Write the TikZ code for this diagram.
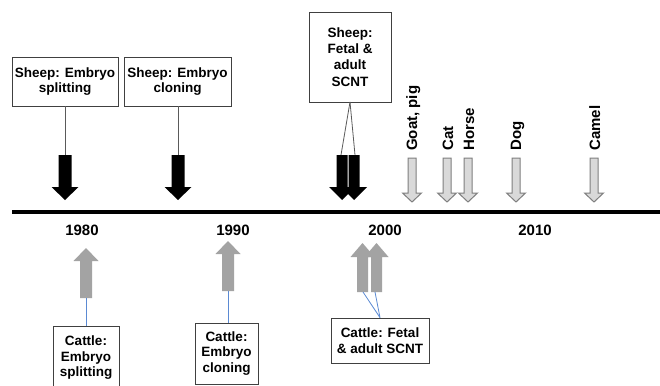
\documentclass[tikz,border=0pt]{standalone}
\usepackage{fontspec}
\setmainfont{Liberation Sans}
\definecolor{boxgray}{HTML}{404040}
\definecolor{linegray}{HTML}{5A5A5A}
\definecolor{upgray}{HTML}{A3A3A3}
\definecolor{lightfill}{HTML}{D9D9D9}
\definecolor{outgray}{HTML}{7F7F7F}
\definecolor{blueline}{HTML}{5B8AD3}
\tikzset{
  box/.style={draw=boxgray, line width=0.8pt, fill=white, align=center, inner sep=1pt,
    font=\bfseries\fontsize{13.5}{15.5}\selectfont},
  year/.style={font=\bfseries\fontsize{15}{17}\selectfont, inner sep=0pt},
  species/.style={rotate=90, anchor=base west, inner sep=0pt, font=\bfseries\fontsize{15}{17}\selectfont},
  blackline/.style={draw=linegray, line width=0.8pt},
  blueconn/.style={draw=blueline, line width=0.8pt},
  blackdown/.pic={\fill[black] (-6.5,0) -- (6.5,0) -- (6.5,32) -- (13.5,32) -- (0,45) -- (-13.5,32) -- (-6.5,32) -- cycle;},
  blackdownthin/.pic={\fill[black] (-5.5,0) -- (5.5,0) -- (5.5,32) -- (13,32) -- (0,45) -- (-13,32) -- (-5.5,32) -- cycle;},
  graydown/.pic={\filldraw[fill=lightfill, draw=outgray, line width=1pt] (-4,0) -- (4,0) -- (4,35) -- (9.5,35) -- (0,44) -- (-9.5,35) -- (-4,35) -- cycle;},
  grayup/.pic={\fill[upgray] (0,0) -- (12.5,13) -- (6,13) -- (6,50) -- (-6,50) -- (-6,13) -- (-12.5,13) -- cycle;},
  grayupthin/.pic={\fill[upgray] (0,0) -- (12,14) -- (5.5,14) -- (5.5,49) -- (-5.5,49) -- (-5.5,14) -- (-12,14) -- cycle;}
}
\begin{document}
\begin{tikzpicture}[x=1pt,y=-1pt]
\useasboundingbox (0,0) rectangle (660,385);
\clip (0,0) rectangle (660,385);
\fill[white] (0,0) rectangle (660,385);

% timeline
\coordinate (tl0) at (12,212);
\coordinate (tl1) at (660,212);
\draw[line width=4pt] (tl0) -- (tl1);

% years
\node[year] (y1980) at (82,230) {1980};
\node[year] (y1990) at (233,230) {1990};
\node[year] (y2000) at (385,230) {2000};
\node[year] (y2010) at (535,230) {2010};

% top boxes
\node[box, minimum width=106pt, minimum height=49pt] (s1) at (65,81.5) {Sheep: Embryo\\splitting};
\node[box, minimum width=107pt, minimum height=49pt] (s2) at (177.5,81.5) {Sheep: Embryo\\cloning};
\node[box, minimum width=82pt, minimum height=90pt, font=\bfseries\fontsize{13.5}{16.3}\selectfont] (s3) at (350,57) {Sheep:\\Fetal \&\\adult\\SCNT};

% black arrows
\pic at (65,155) {blackdown};
\pic at (178,155) {blackdown};
\pic at (342,155) {blackdownthin};
\pic at (354,155) {blackdownthin};
\coordinate (a1) at (65,155);
\coordinate (a2) at (178,155);
\coordinate (a3) at (341,155);
\coordinate (a4) at (355,155);
\coordinate (s3b) at (350,102);
\draw[blackline] (s1.south) -- (a1);
\draw[blackline] (s2.south -| a2) -- (a2);
\draw[blackline] (s3b) -- (a3);
\draw[blackline] (s3b) -- (a4);

% gray down arrows and species labels
\pic at (412,158) {graydown};
\pic at (447,158) {graydown};
\pic at (468,158) {graydown};
\pic at (516,158) {graydown};
\pic at (594,158) {graydown};
\node[species] (goat) at (417,151) {Goat, pig};
\node[species] (cat) at (453,151) {Cat};
\node[species] (horse) at (474,151) {Horse};
\node[species] (dog) at (521,151) {Dog};
\node[species] (camel) at (600,151) {Camel};

% gray up arrows
\pic at (86,248) {grayup};
\pic at (228,241) {grayup};
\pic at (362.5,243) {grayupthin};
\pic at (376.5,243) {grayupthin};
\coordinate (b1) at (86,298);
\coordinate (b2) at (228,291);
\coordinate (b3) at (363,292);
\coordinate (b4) at (375,292);

% bottom boxes
\node[box, minimum width=66pt, minimum height=64pt] (c1) at (86,358) {Cattle:\\Embryo\\splitting};
\node[box, minimum width=63pt, minimum height=61pt] (c2) at (226.5,353.5) {Cattle:\\Embryo\\cloning};
\node[box, minimum width=98pt, minimum height=45pt] (c3) at (380,340.5) {Cattle: Fetal\\\& adult SCNT};

\draw[blueconn] (b1) -- (c1.north -| b1);
\draw[blueconn] (b2) -- (c2.north -| b2);
\draw[blueconn] (b3) -- (c3.north);
\draw[blueconn] (b4) -- (c3.north);
\end{tikzpicture}
\end{document}
